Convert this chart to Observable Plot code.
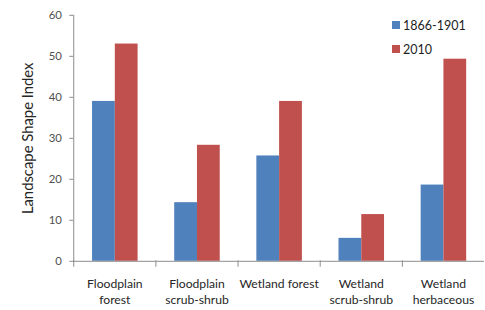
<!DOCTYPE html>
<html>
<head>
<meta charset="utf-8">
<script src="https://cdn.jsdelivr.net/npm/d3@7"></script>
<script src="https://cdn.jsdelivr.net/npm/@observablehq/plot@0.6"></script>
<style>
  html, body { margin: 0; padding: 0; background: #fff; overflow: hidden; }
  #wrap { position: relative; width: 485px; height: 310px; overflow: hidden; font-family: Lato, "Open Sans", sans-serif; }
  #legend { position: absolute; left: 392px; top: 13px; font-size: 12.5px; color: #1e1e1e; }
  #legend .item { display: flex; align-items: center; height: 24px; }
  #legend .sw { width: 8px; height: 8px; margin-right: 3px; }
</style>
</head>
<body>
<div id="wrap"><div id="legend"></div></div>
<script>
const categories = ["Floodplain\nforest", "Floodplain\nscrub-shrub", "Wetland forest", "Wetland\nscrub-shrub", "Wetland\nherbaceous"];
const series = ["1866-1901", "2010"];
const values1866 = [39, 14.3, 25.7, 5.6, 18.6];
const values2010 = [53, 28.3, 39, 11.4, 49.3];
const colors = ["#4F81BD", "#C0504D"];
const yTicks = [0, 10, 20, 30, 40, 50, 60];
const yLabel = "Landscape Shape Index";

const data = [];
categories.forEach((c, i) => {
  data.push({category: c, series: series[0], value: values1866[i]});
  data.push({category: c, series: series[1], value: values2010[i]});
});

const chart = Plot.plot({
  width: 490,
  height: 310,
  marginLeft: 73,
  marginRight: 0,
  marginTop: 15,
  marginBottom: 46.5,
  style: {fontFamily: "Lato, 'Open Sans', sans-serif", background: "#fff"},
  fx: {domain: categories, padding: 0, label: null, axis: null},
  x: {domain: series, paddingInner: 0, paddingOuter: 0.74, axis: null},
  y: {domain: [0, 60]},
  color: {domain: series, range: colors},
  marks: [
    Plot.barY(data, {fx: "category", x: "series", y: "value", fill: "series"}),
    Plot.ruleY([0], {stroke: "#8c8c8c", strokeWidth: 1}),
    Plot.frame({anchor: "left", stroke: "#8c8c8c", insetTop: 248, insetBottom: -5}),
    Plot.frame({anchor: "left", stroke: "#8c8c8c", facetAnchor: "left"}),
    Plot.axisY({ticks: yTicks, tickSize: 4, tickPadding: 8, fontSize: 11.5, fill: "#505050", stroke: "#8c8c8c", label: null}),
    Plot.axisY({ticks: [], label: yLabel, labelAnchor: "center", labelArrow: "none", labelOffset: 52, fontSize: 15, fill: "#262626"}),
    Plot.axisFx({anchor: "bottom", tickSize: 0, tickPadding: 16, fontSize: 12.3, fill: "#262626", label: null, lineHeight: 1.3})
  ]
});

document.getElementById("wrap").prepend(chart);

const legend = document.getElementById("legend");
series.forEach((s, i) => {
  const item = document.createElement("div");
  item.className = "item";
  const sw = document.createElement("span");
  sw.className = "sw";
  sw.style.background = colors[i];
  const t = document.createElement("span");
  t.textContent = s;
  item.append(sw, t);
  legend.append(item);
});
</script>
</body>
</html>
